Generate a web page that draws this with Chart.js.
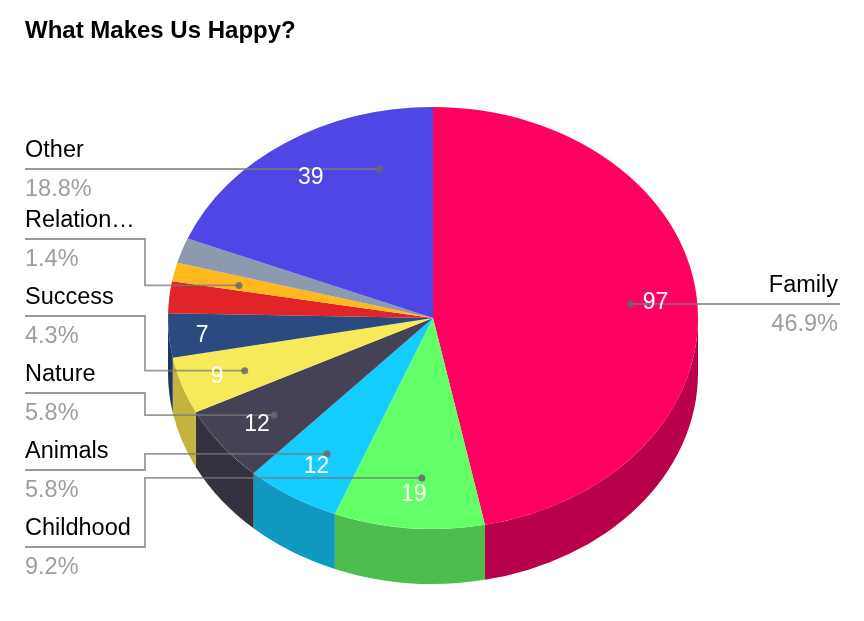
<!DOCTYPE html>
<html>
<head>
<meta charset="utf-8">
<title>What Makes Us Happy?</title>
<script src="https://cdn.jsdelivr.net/npm/chart.js@4"></script>
<style>
  html, body { margin: 0; padding: 0; background: #fff; }
  canvas { display: block; }
</style>
</head>
<body>
<canvas id="chart" width="864" height="621"></canvas>
<script>
const chartTitle = "What Makes Us Happy?";
// slices without a name are not labelled in the picture
const categories = ["Family", "Childhood", "Animals", "Nature", "Success", "", "", "Relation…", "", "Other"];
const values = [97, 19, 12, 12, 9, 7, 5, 3, 4, 39];
const shares = ["46.9%", "9.2%", "5.8%", "5.8%", "4.3%", "", "", "1.4%", "", "18.8%"];
const topColors = ["#ff0060", "#62ff66", "#14ccff", "#464255", "#f7ea5a", "#2a4a80", "#e02428", "#ffb820", "#8c99ae", "#5046e5"];
const sideColors = ["#b9004a", "#4dbd50", "#1098c0", "#343140", "#c4b43e", "#1e3560", "#a81a1e", "#c08a18", "#6a7484", "#3c34ac"];

const squash = 0.796;   // top face is a circle squashed to an ellipse
const depth = 55;
const font = '"Liberation Sans", Arial, sans-serif';
const leaderColor = "rgba(120,120,120,0.75)";

// label block for each named slice: where the text and the elbow of the leader sit
const callouts = [
  { i: 0, x: 838, lineY: 304, right: true },
  { i: 1, x: 25, lineY: 547, elbowX: 145, turn: -2 },
  { i: 2, x: 25, lineY: 470, elbowX: 145 },
  { i: 3, x: 25, lineY: 393, elbowX: 145 },
  { i: 4, x: 25, lineY: 316, elbowX: 145 },
  { i: 7, x: 25, lineY: 239, elbowX: 145 },
  { i: 9, x: 25, lineY: 169, turn: 18 },
];

// small shifts of the value text, the picture moves some of them off the slice middle
const valueShift = {
  0: [1, 2], 1: [1, 0], 2: [2, -1], 3: [2, 0], 4: [-5, 2], 5: [-9, 3], 9: [2, 7],
};

function onFace(arc, angle, k) {
  return {
    x: arc.x + Math.cos(angle) * arc.outerRadius * k,
    y: arc.y + Math.sin(angle) * arc.outerRadius * k * squash,
  };
}

const pie3d = {
  id: "pie3d",
  beforeDatasetsDraw(chart) {
    const ctx = chart.ctx;
    const arcs = chart.getDatasetMeta(0).data;
    // side wall, only the front half of the pie shows
    arcs.forEach((arc, i) => {
      const a = Math.max(arc.startAngle, 0);
      const b = Math.min(arc.endAngle, Math.PI);
      if (b <= a) return;
      const rx = arc.outerRadius;
      ctx.beginPath();
      ctx.ellipse(arc.x, arc.y, rx, rx * squash, 0, a, b);
      ctx.ellipse(arc.x, arc.y + depth, rx, rx * squash, 0, b, a, true);
      ctx.closePath();
      ctx.fillStyle = sideColors[i];
      ctx.fill();
    });
    const first = arcs[0];
    ctx.save();
    ctx.translate(first.x, first.y);
    ctx.scale(1, squash);
    ctx.translate(-first.x, -first.y);
  },
  afterDatasetsDraw(chart) {
    chart.ctx.restore();
  },
  afterDraw(chart) {
    const ctx = chart.ctx;
    const arcs = chart.getDatasetMeta(0).data;

    ctx.save();
    ctx.fillStyle = "#000";
    ctx.font = "bold 24px " + font;
    ctx.textAlign = "left";
    ctx.textBaseline = "alphabetic";
    ctx.fillText(chartTitle, 25, 38);

    // leaders and dots
    callouts.forEach((c) => {
      const arc = arcs[c.i];
      const mid = (arc.startAngle + arc.endAngle) / 2 + (c.turn || 0) * Math.PI / 180;
      const dot = onFace(arc, mid, c.i === 9 ? 0.735 : 0.75);
      const dotY = c.i === 9 ? dot.y : dot.y + 2;
      const sx = c.right ? 840 : c.x;
      ctx.beginPath();
      ctx.moveTo(sx, c.lineY);
      if (c.elbowX) {
        ctx.lineTo(c.elbowX, c.lineY);
        ctx.lineTo(c.elbowX, dotY);
        ctx.lineTo(dot.x, dotY);
      } else {
        ctx.lineTo(dot.x, c.lineY);
      }
      ctx.strokeStyle = leaderColor;
      ctx.lineWidth = 1.8;
      ctx.stroke();
      ctx.beginPath();
      ctx.arc(dot.x, c.elbowX ? dotY : c.lineY, 3.5, 0, Math.PI * 2);
      ctx.fillStyle = "rgba(105,105,105,0.85)";
      ctx.fill();
    });

    // values on the slices, small ones are left out
    ctx.font = "23px " + font;
    ctx.fillStyle = "#fff";
    ctx.textAlign = "center";
    ctx.textBaseline = "middle";
    arcs.forEach((arc, i) => {
      if (values[i] / values.reduce((s, v) => s + v, 0) < 0.03) return;
      const p = onFace(arc, (arc.startAngle + arc.endAngle) / 2, 0.84);
      const shift = valueShift[i] || [0, 0];
      ctx.fillText(String(values[i]), p.x + shift[0], p.y + shift[1]);
    });

    // category names above the leader, shares below
    ctx.font = "23.5px " + font;
    callouts.forEach((c) => {
      ctx.textAlign = c.right ? "right" : "left";
      ctx.textBaseline = "alphabetic";
      ctx.fillStyle = "#000";
      ctx.fillText(categories[c.i], c.x, c.lineY - 12);
      ctx.fillStyle = "#9e9e9e";
      ctx.fillText(shares[c.i], c.x, c.lineY + 27);
    });
    ctx.restore();
  },
};

new Chart(document.getElementById("chart"), {
  type: "pie",
  data: {
    labels: categories,
    datasets: [{
      data: values,
      backgroundColor: topColors,
      borderWidth: 0,
      hoverOffset: 0,
    }],
  },
  options: {
    responsive: false,
    animation: false,
    events: [],
    layout: { padding: { left: 2, top: 53, bottom: 38 } },
    plugins: {
      legend: { display: false },
      title: { display: false },
      tooltip: { enabled: false },
    },
  },
  plugins: [pie3d],
});
</script>
</body>
</html>
